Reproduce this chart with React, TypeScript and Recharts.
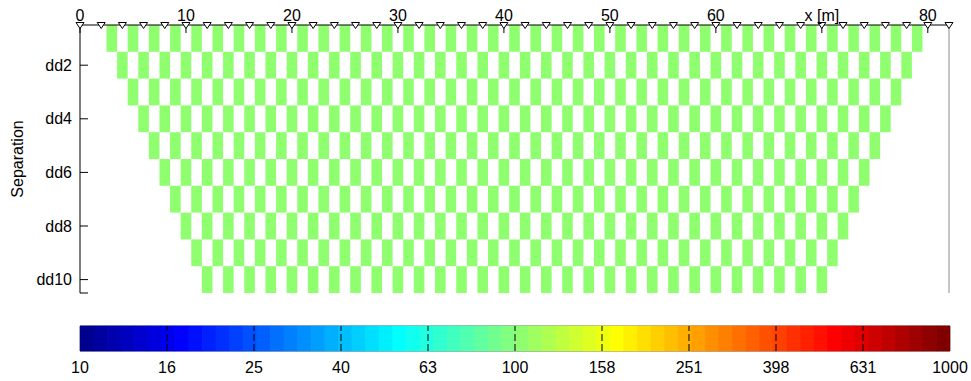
import { ComposedChart, Scatter, Bar, Cell, XAxis, YAxis, ReferenceArea, ReferenceLine } from 'recharts';

// dipole-dipole pseudosection, 2 m electrode spacing
const separations = [1, 2, 3, 4, 5, 6, 7, 8, 9, 10];
const firstMidpoint = [3, 4, 5, 6, 7, 8, 9, 10, 11, 12];
const lastMidpoint = [79, 78, 77, 76, 75, 74, 73, 72, 71, 70];
const rowResistivity = [100, 100, 100, 100, 100, 100, 100, 100, 100, 100];
const electrodes = [
  0, 2, 4, 6, 8, 10, 12, 14, 16, 18, 20, 22, 24, 26, 28, 30, 32, 34, 36, 38, 40,
  42, 44, 46, 48, 50, 52, 54, 56, 58, 60, 62, 64, 66, 68, 70, 72, 74, 76, 78, 80, 82,
];
const xTicks = [0, 10, 20, 30, 40, 50, 60, 70, 80];
const yTicks = [2, 4, 6, 8, 10, 10.5];
const colorbarTicks = [1, 1.2, 1.4, 1.6, 1.8, 2, 2.2, 2.4, 2.6, 2.8, 3];
const colorbarLabels = ['10', '16', '25', '40', '63', '100', '158', '251', '398', '631', '1000'];

const FONT = '"Liberation Sans", Arial, sans-serif';
const ELECTRODE_SPACING = 2;
const N_COLORS = 64;
const LOG_MIN = 1;
const LOG_MAX = 3;

// matlab jet(64)
function jet(i: number) {
  const n = N_COLORS / 4;
  const u: number[] = [];
  for (let k = 1; k <= n; k++) u.push(k / n);
  for (let k = 0; k < n - 1; k++) u.push(1);
  for (let k = n; k >= 1; k--) u.push(k / n);
  const row = i + 1;
  const pick = (idx: number) => (idx >= 1 && idx <= u.length ? u[idx - 1] : 0);
  const r = pick(row - 24);
  const g = pick(row - 8);
  const b = pick(row + 8);
  const h = (v: number) => Math.round(v * 255).toString(16).padStart(2, '0');
  return `#${h(r)}${h(g)}${h(b)}`;
}

function colorFor(value: number) {
  const t = (Math.log10(value) - LOG_MIN) / (LOG_MAX - LOG_MIN);
  const idx = Math.min(N_COLORS - 1, Math.max(0, Math.floor(t * N_COLORS)));
  return jet(idx);
}

const cells: { x: number; sep: number; value: number }[] = [];
separations.forEach((sep, i) => {
  for (let m = firstMidpoint[i]; m <= lastMidpoint[i]; m += ELECTRODE_SPACING) {
    cells.push({ x: m, sep, value: rowResistivity[i] });
  }
});

const electrodeData = electrodes.map((x) => ({ x, y: 0.5 }));

// one full-height bar per colormap entry, centred in its log10 slot
const bands = Array.from({ length: N_COLORS }, (_, i) => ({
  mid: LOG_MIN + ((LOG_MAX - LOG_MIN) * (i + 0.5)) / N_COLORS,
  level: 1,
  color: jet(i),
}));

const tickStyle = { fill: '#000', fontSize: 16, fontFamily: FONT };

const Electrode = (props: any) => {
  const { cx, cy } = props;
  if (cx == null || cy == null) return null;
  return (
    <polygon
      points={`${cx - 4},${cy - 2.5} ${cx + 4},${cy - 2.5} ${cx},${cy + 3.5}`}
      fill="#fff"
      stroke="#000"
      strokeWidth={1}
    />
  );
};

const SeparationLabel = (props: any) => {
  const { viewBox } = props;
  const x = 17;
  const y = viewBox.y + viewBox.height / 2;
  return (
    <text
      x={x}
      y={y}
      transform={`rotate(-90, ${x}, ${y})`}
      textAnchor="middle"
      dominantBaseline="central"
      fontSize={16}
      fontFamily={FONT}
      fill="#000"
    >
      Separation
    </text>
  );
};

export default function App() {
  return (
    <div style={{ position: 'absolute', left: 0, top: 0, width: 971, height: 381, background: '#fff', fontFamily: FONT }}>
      <div style={{ position: 'absolute', left: 0, top: 0 }}>
        <ComposedChart width={971} height={300} margin={{ top: 0, right: 0, bottom: 0, left: 0 }}>
          <XAxis
            xAxisId="top"
            orientation="top"
            type="number"
            dataKey="x"
            domain={[0, 82]}
            ticks={xTicks}
            interval={0}
            height={25}
            tickSize={-8}
            tickMargin={12}
            tickFormatter={(v: number) => (v === 70 ? 'x [m]' : String(v))}
            tick={tickStyle}
            stroke="#000"
            tickLine={{ stroke: '#000' }}
            axisLine={{ stroke: '#000' }}
          />
          <XAxis
            xAxisId="bottom"
            orientation="bottom"
            type="number"
            domain={[0, 82]}
            ticks={xTicks}
            interval={0}
            height={7}
            tickSize={-8}
            tickFormatter={() => ''}
            axisLine={false}
            tickLine={{ stroke: '#000' }}
          />
          <YAxis
            yAxisId="left"
            orientation="left"
            type="number"
            dataKey="y"
            domain={[0.5, 10.5]}
            reversed
            ticks={yTicks}
            interval={0}
            width={80}
            tickSize={-8}
            tickMargin={16}
            tickFormatter={(v: number) => (v === 10.5 ? '' : `dd${v}`)}
            tick={tickStyle}
            axisLine={{ stroke: '#000' }}
            tickLine={{ stroke: '#000' }}
            label={{ content: SeparationLabel }}
          />
          <YAxis
            yAxisId="right"
            orientation="right"
            type="number"
            domain={[0.5, 10.5]}
            reversed
            ticks={yTicks}
            interval={0}
            width={22}
            tickSize={-8}
            tickFormatter={() => ''}
            axisLine={{ stroke: '#8c8c8c' }}
            tickLine={{ stroke: '#333' }}
          />
          {cells.map((c, i) => (
            <ReferenceArea
              key={`cell-${i}`}
              xAxisId="top"
              yAxisId="left"
              x1={c.x - 0.5}
              x2={c.x + 0.5}
              y1={c.sep - 0.5}
              y2={c.sep + 0.5}
              fill={colorFor(c.value)}
              fillOpacity={1}
              stroke="none"
            />
          ))}
          <Scatter
            xAxisId="top"
            yAxisId="left"
            data={electrodeData}
            shape={Electrode}
            isAnimationActive={false}
          />
        </ComposedChart>
      </div>
      <div style={{ position: 'absolute', left: 0, top: 300 }}>
        <ComposedChart
          width={971}
          height={81}
          data={bands}
          margin={{ top: 26, right: 21, bottom: 0, left: 80 }}
          barCategoryGap={0}
          barGap={0}
        >
          <XAxis
            type="number"
            dataKey="mid"
            domain={[LOG_MIN, LOG_MAX]}
            allowDataOverflow
            ticks={colorbarTicks}
            interval={0}
            height={30}
            tickSize={0}
            tickMargin={11}
            tickFormatter={(v: number) => colorbarLabels[colorbarTicks.indexOf(v)] ?? ''}
            tick={tickStyle}
            axisLine={false}
            tickLine={false}
          />
          <YAxis type="number" domain={[0, 1]} hide />
          <Bar dataKey="level" isAnimationActive={false}>
            {bands.map((b, i) => (
              <Cell key={`band-${i}`} fill={b.color} stroke={b.color} strokeWidth={0.6} />
            ))}
          </Bar>
          {colorbarTicks.slice(1, -1).map((t) => (
            <ReferenceLine key={`cbt-${t}`} x={t} stroke="#000" strokeDasharray="7 3" />
          ))}
          <ReferenceArea x1={LOG_MIN} x2={LOG_MAX} y1={0} y2={1} fill="none" fillOpacity={0} stroke="#555" />
        </ComposedChart>
      </div>
    </div>
  );
}
